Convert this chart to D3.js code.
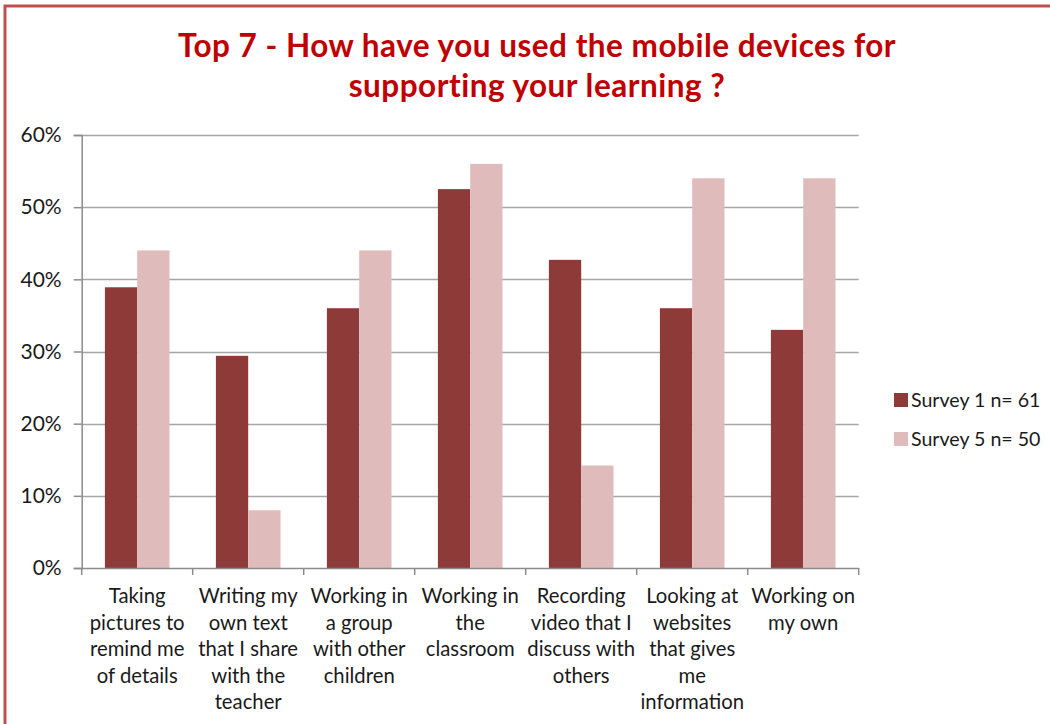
<!DOCTYPE html>
<html>
<head>
<meta charset="utf-8">
<script src="https://cdn.jsdelivr.net/npm/d3@7"></script>
<style>
  html, body { margin: 0; padding: 0; background: #fff; }
  svg { display: block; }
  text { font-family: Lato, "Open Sans", sans-serif; }
</style>
</head>
<body>
<svg id="chart" width="1050" height="724"></svg>
<script>
const categories = [
  ["Taking", "pictures to", "remind me", "of details"],
  ["Writing my", "own text", "that I share", "with the", "teacher"],
  ["Working in", "a group", "with other", "children"],
  ["Working in", "the", "classroom"],
  ["Recording", "video that I", "discuss with", "others"],
  ["Looking at", "websites", "that gives", "me", "information"],
  ["Working on", "my own"]
];
const seriesNames = ["Survey 1 n= 61", "Survey 5 n= 50"];
const survey1 = [0.389, 0.294, 0.360, 0.525, 0.427, 0.360, 0.330];
const survey5 = [0.440, 0.080, 0.440, 0.560, 0.142, 0.540, 0.540];
const yTicks = [0, 0.1, 0.2, 0.3, 0.4, 0.5, 0.6];
const titleLines = ["Top 7 - How have you used the mobile devices for", "supporting your learning ?"];
const colors = ["#8E3A38", "#E0BBBB"];

const svg = d3.select("#chart");

// frame (red border)
svg.append("path")
  .attr("d", "M5,724 L5,6 L1050,6")
  .attr("fill", "none").attr("stroke", "#C0504D").attr("stroke-width", 3);

const pLeft = 81.7, pRight = 858.7, pTop = 135, pBottom = 568;
const idx = categories.map((d, i) => i);
const x = d3.scaleBand().domain(idx).range([pLeft, pRight]).padding(0);
const y = d3.scaleLinear().domain([0, 0.6]).range([pBottom, pTop]);
const step = x.bandwidth();
const x1 = d3.scaleBand().domain([0, 1]).range([step * 0.209, step * 0.791]).padding(0);

// gridlines
svg.append("g").selectAll("line").data(yTicks.slice(1)).join("line")
  .attr("x1", pLeft).attr("x2", pRight)
  .attr("y1", d => Math.round(y(d)) + 0.5).attr("y2", d => Math.round(y(d)) + 0.5)
  .attr("stroke", "#A6A6A6").attr("stroke-width", 1.5);

// y axis
const yAxis = d3.axisLeft(y).tickValues(yTicks).tickFormat(d3.format(".0%")).tickSize(8).tickPadding(12);
const gy = svg.append("g").attr("transform", `translate(${pLeft},0)`).call(yAxis);
gy.select(".domain").attr("stroke", "#8C8C8C").attr("stroke-width", 1.5);
gy.selectAll(".tick line").attr("stroke", "#8C8C8C").attr("stroke-width", 1.5);
gy.selectAll(".tick text").attr("font-size", 21).attr("fill", "#1a1a1a")
  .attr("font-family", "Lato, sans-serif");

// bars
const data = idx.map(i => [survey1[i], survey5[i]]);
const groups = svg.append("g").selectAll("g").data(data).join("g")
  .attr("transform", (d, i) => `translate(${x(i)},0)`);
groups.selectAll("rect").data(d => d.map((v, k) => ({v, k}))).join("rect")
  .attr("x", d => x1(d.k))
  .attr("width", x1.bandwidth())
  .attr("y", d => y(d.v))
  .attr("height", d => y(0) - y(d.v))
  .attr("fill", d => colors[d.k]);

// x axis
const xAxis = d3.axisBottom(x).tickSize(0).tickFormat("");
const gx = svg.append("g").attr("transform", `translate(0,${pBottom})`).call(xAxis);
gx.select(".domain").attr("stroke", "#8C8C8C").attr("stroke-width", 1.5);
// boundary tick marks
svg.append("g").selectAll("line").data(d3.range(categories.length + 1)).join("line")
  .attr("x1", i => pLeft + i * step).attr("x2", i => pLeft + i * step)
  .attr("y1", pBottom).attr("y2", pBottom + 7)
  .attr("stroke", "#8C8C8C").attr("stroke-width", 1.5);

// category labels
const lab = svg.append("g").selectAll("text").data(categories).join("text")
  .attr("text-anchor", "middle")
  .attr("font-size", 20.3)
  .attr("fill", "#1a1a1a")
  .attr("x", (d, i) => x(i) + step / 2)
  .attr("y", 603);
lab.selectAll("tspan").data(d => d).join("tspan")
  .attr("x", function() { return d3.select(this.parentNode).attr("x"); })
  .attr("dy", (d, j) => j === 0 ? 0 : 26.6)
  .text(d => d);

// title
svg.append("g").selectAll("text").data(titleLines).join("text")
  .attr("x", 537).attr("y", (d, i) => 57 + i * 40)
  .attr("text-anchor", "middle")
  .attr("font-size", 31.5).attr("font-weight", "bold").attr("fill", "#C00000")
  .attr("letter-spacing", 0.5)
  .text(d => d);

// legend
const leg = svg.append("g").selectAll("g").data(seriesNames).join("g")
  .attr("transform", (d, i) => `translate(894,${400 + i * 39})`);
leg.append("rect").attr("x", 0).attr("y", -7).attr("width", 14).attr("height", 14)
  .attr("fill", (d, i) => colors[i]);
leg.append("text").attr("x", 17).attr("y", 7)
  .attr("font-size", 19.6).attr("fill", "#1a1a1a").text(d => d);
</script>
</body>
</html>
